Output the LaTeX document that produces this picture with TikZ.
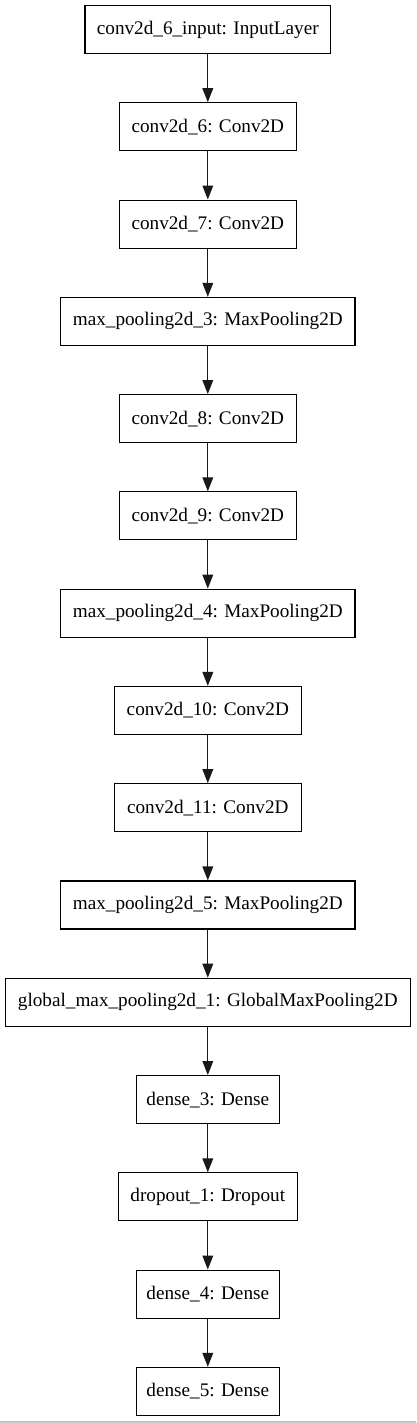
\documentclass[tikz,border=0pt]{standalone}
\usepackage{fontspec}
\setmainfont{Liberation Serif}
\usetikzlibrary{arrows.meta}
\begin{document}
\begin{tikzpicture}[x=1pt,y=-1pt,
  layer/.style={draw=black, line width=1.15pt, rectangle, minimum height=48pt, inner sep=0pt,
    font=\fontsize{19.2}{22}\selectfont, text=black},
  flow/.style={draw=black!90, line width=1.2pt, -{Triangle[length=14pt,width=10.7pt]}}]
\useasboundingbox (0,0) rectangle (416,1423);
\fill[white] (0,0) rectangle (416,1423);
\def\cx{207.8}
\node[layer, minimum width=245.7pt] (n0) at (\cx,29.5) {conv2d\_6\_input: InputLayer};
\node[layer, minimum width=177pt] (n1) at (\cx,126.8) {conv2d\_6: Conv2D};
\node[layer, minimum width=177pt] (n2) at (\cx,224.1) {conv2d\_7: Conv2D};
\node[layer, minimum width=294.3pt] (n3) at (\cx,321.4) {max\_pooling2d\_3: MaxPooling2D};
\node[layer, minimum width=177pt] (n4) at (\cx,418.6) {conv2d\_8: Conv2D};
\node[layer, minimum width=177pt] (n5) at (\cx,515.9) {conv2d\_9: Conv2D};
\node[layer, minimum width=294.3pt] (n6) at (\cx,613.2) {max\_pooling2d\_4: MaxPooling2D};
\node[layer, minimum width=187pt] (n7) at (\cx,710.5) {conv2d\_10: Conv2D};
\node[layer, minimum width=187pt] (n8) at (\cx,807.7) {conv2d\_11: Conv2D};
\node[layer, minimum width=294.3pt] (n9) at (\cx,905.0) {max\_pooling2d\_5: MaxPooling2D};
\node[layer, minimum width=405pt] (n10) at (\cx,1002.3) {global\_max\_pooling2d\_1: GlobalMaxPooling2D};
\node[layer, minimum width=143pt] (n11) at (\cx,1099.6) {dense\_3: Dense};
\node[layer, minimum width=179pt] (n12) at (\cx,1196.9) {dropout\_1: Dropout};
\node[layer, minimum width=143pt] (n13) at (\cx,1294.1) {dense\_4: Dense};
\node[layer, minimum width=143pt] (n14) at (\cx,1391.4) {dense\_5: Dense};
\foreach \a/\b in {n0/n1,n1/n2,n2/n3,n3/n4,n4/n5,n5/n6,n6/n7,n7/n8,n8/n9,n9/n10,n10/n11,n11/n12,n12/n13,n13/n14}
  \draw[flow] (\a.south) -- (\b.north);
\coordinate (bl) at (0,1422);
\coordinate (br) at (416,1422);
\draw[gray!45, line width=1.2pt] (bl) -- (br);
\end{tikzpicture}
\end{document}
